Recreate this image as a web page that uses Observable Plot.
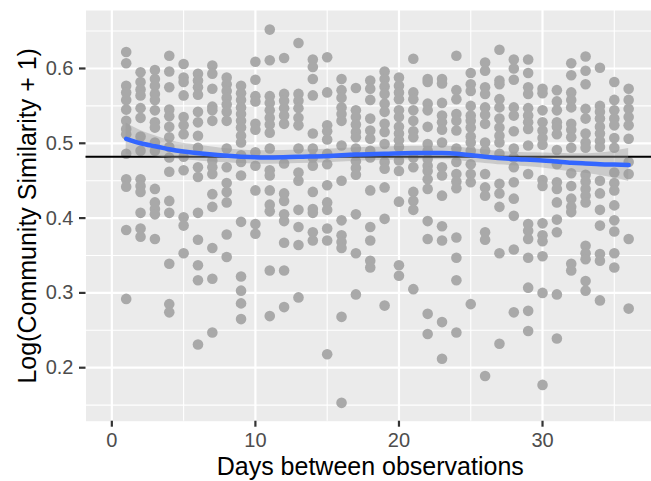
<!DOCTYPE html>
<html><head><meta charset="utf-8">
<script src="https://cdn.jsdelivr.net/npm/d3@7"></script>
<script src="https://cdn.jsdelivr.net/npm/@observablehq/plot@0.6"></script>
<style>html,body{margin:0;padding:0;background:#fff;overflow:hidden}</style>
</head><body><div id="chart"></div>
<script>
const days = [1,2,3,4,5,6,7,8,9,10,11,12,13,14,15,16,17,18,19,20,21,22,23,24,25,26,27,28,29,30,31,32,33,34,35,36];
const similarity = [
 [0.622,0.607,0.577,0.568,0.558,0.545,0.530,0.519,0.512,0.486,0.452,0.442,0.384,0.292],
 [0.595,0.582,0.572,0.564,0.547,0.534,0.509,0.490,0.452,0.443,0.435,0.407,0.386,0.375],
 [0.598,0.586,0.577,0.566,0.558,0.544,0.528,0.521,0.501,0.490,0.439,0.421,0.412,0.405,0.372],
 [0.617,0.596,0.575,0.545,0.536,0.522,0.508,0.495,0.481,0.462,0.423,0.407,0.339,0.285,0.274],
 [0.606,0.588,0.582,0.564,0.535,0.524,0.512,0.482,0.464,0.401,0.390,0.353],
 [0.593,0.584,0.575,0.565,0.542,0.528,0.510,0.494,0.468,0.455,0.407,0.371,0.337,0.317,0.231],
 [0.604,0.593,0.573,0.549,0.544,0.530,0.477,0.468,0.459,0.432,0.415,0.360,0.319,0.247],
 [0.588,0.579,0.570,0.561,0.552,0.542,0.530,0.493,0.468,0.447,0.435,0.421,0.378,0.348],
 [0.577,0.567,0.558,0.548,0.539,0.530,0.521,0.510,0.501,0.484,0.475,0.457,0.395,0.322,0.303,0.286,0.265],
 [0.609,0.585,0.563,0.556,0.526,0.518,0.488,0.470,0.437,0.392,0.379],
 [0.652,0.611,0.563,0.554,0.544,0.534,0.525,0.514,0.493,0.464,0.457,0.437,0.418,0.409,0.330,0.269],
 [0.614,0.566,0.557,0.547,0.537,0.526,0.473,0.433,0.423,0.405,0.396,0.367,0.330,0.281],
 [0.634,0.566,0.557,0.547,0.534,0.524,0.493,0.461,0.450,0.411,0.388,0.364,0.294],
 [0.612,0.602,0.586,0.564,0.513,0.493,0.481,0.470,0.435,0.412,0.407,0.381,0.370],
 [0.615,0.568,0.524,0.516,0.505,0.486,0.472,0.444,0.421,0.411,0.386,0.370,0.218],
 [0.586,0.571,0.561,0.548,0.539,0.530,0.497,0.450,0.397,0.377,0.368,0.360,0.268,0.153],
 [0.574,0.544,0.535,0.525,0.515,0.508,0.493,0.476,0.467,0.458,0.405,0.353,0.298],
 [0.584,0.573,0.558,0.533,0.517,0.506,0.490,0.481,0.437,0.388,0.370,0.343,0.334],
 [0.596,0.586,0.576,0.566,0.553,0.542,0.526,0.515,0.499,0.475,0.466,0.441,0.399,0.283],
 [0.588,0.577,0.568,0.559,0.544,0.535,0.522,0.513,0.504,0.495,0.477,0.463,0.422,0.337,0.323],
 [0.613,0.568,0.559,0.544,0.530,0.516,0.508,0.481,0.468,0.435,0.423,0.411,0.305],
 [0.586,0.582,0.553,0.544,0.522,0.499,0.490,0.479,0.470,0.463,0.452,0.439,0.396,0.372,0.272,0.245],
 [0.586,0.580,0.554,0.537,0.528,0.518,0.501,0.468,0.457,0.430,0.389,0.370,0.261,0.212],
 [0.617,0.571,0.559,0.539,0.530,0.517,0.493,0.475,0.459,0.449,0.440,0.374,0.347,0.317,0.247],
 [0.594,0.579,0.570,0.550,0.537,0.530,0.521,0.509,0.501,0.490,0.472,0.459,0.448,0.285],
 [0.608,0.597,0.575,0.566,0.548,0.538,0.526,0.501,0.490,0.459,0.441,0.430,0.381,0.371,0.189],
 [0.625,0.584,0.579,0.559,0.548,0.533,0.521,0.510,0.501,0.486,0.446,0.433,0.415,0.353,0.232],
 [0.612,0.600,0.585,0.548,0.537,0.516,0.493,0.481,0.468,0.448,0.426,0.403,0.358,0.274],
 [0.612,0.594,0.575,0.566,0.547,0.537,0.528,0.519,0.497,0.459,0.392,0.383,0.372,0.347,0.307,0.276,0.249],
 [0.573,0.567,0.544,0.528,0.517,0.507,0.498,0.451,0.443,0.393,0.377,0.369,0.349,0.300,0.177],
 [0.571,0.556,0.544,0.528,0.522,0.512,0.491,0.472,0.448,0.439,0.421,0.398,0.381,0.298,0.239],
 [0.607,0.591,0.568,0.558,0.548,0.526,0.518,0.508,0.494,0.460,0.443,0.426,0.415,0.408,0.339,0.330],
 [0.616,0.597,0.579,0.546,0.533,0.513,0.501,0.494,0.458,0.449,0.439,0.430,0.421,0.363,0.353,0.345,0.316,0.303],
 [0.601,0.550,0.542,0.533,0.522,0.513,0.503,0.495,0.450,0.433,0.411,0.390,0.352,0.343,0.290],
 [0.582,0.558,0.544,0.533,0.524,0.507,0.494,0.461,0.447,0.437,0.417,0.397,0.382,0.353,0.334],
 [0.573,0.558,0.546,0.535,0.524,0.506,0.475,0.459,0.372,0.279]
];
const meanSimilarity = [0.482];
const smoothDays = [1,2,3,4,5,7,9,11,13,15,17,19,21,23,24,26,28,30,32,33,34,35,36];
const smoothFit  = [0.506,0.500,0.496,0.492,0.489,0.485,0.482,0.481,0.482,0.483,0.485,0.486,0.487,0.487,0.486,0.482,0.479,0.477,0.474,0.473,0.472,0.4715,0.471];
const smoothLow  = [0.485,0.483,0.482,0.480,0.478,0.475,0.473,0.472,0.473,0.474,0.476,0.477,0.478,0.478,0.477,0.473,0.470,0.467,0.462,0.460,0.457,0.4535,0.449];
const smoothHigh = [0.527,0.517,0.510,0.504,0.500,0.495,0.491,0.490,0.491,0.492,0.494,0.495,0.496,0.496,0.495,0.491,0.488,0.487,0.486,0.486,0.487,0.4895,0.493];
const xMajor = [0,10,20,30];
const xMinor = [5,15,25,35];
const yMajor = [0.2,0.3,0.4,0.5,0.6];
const yMinor = [0.15,0.25,0.35,0.45,0.55,0.65];

const points = days.flatMap((d, i) => similarity[i].map(v => ({day: d, sim: v})));
const smooth = smoothDays.map((d, i) => ({day: d, fit: smoothFit[i], lo: smoothLow[i], hi: smoothHigh[i]}));

const chart = Plot.plot({
  width: 651, height: 481,
  marginLeft: 85.5, marginRight: -3, marginTop: 10, marginBottom: 60.3,
  style: {fontFamily: "'Liberation Sans', Arial, Helvetica, sans-serif", fontSize: "20px", background: "#fff", overflow: "hidden"},
  x: {domain: [-1.8, 37.8]},
  y: {domain: [0.1285, 0.6775]},
  marks: [
    Plot.frame({fill: "#EBEBEB", stroke: null}),
    Plot.gridX(xMinor, {stroke: "#fff", strokeOpacity: 1, strokeWidth: 1.1}),
    Plot.gridY(yMinor, {stroke: "#fff", strokeOpacity: 1, strokeWidth: 1.1}),
    Plot.gridX(xMajor, {stroke: "#fff", strokeOpacity: 1, strokeWidth: 2.2}),
    Plot.gridY(yMajor, {stroke: "#fff", strokeOpacity: 1, strokeWidth: 2.2}),
    Plot.dot(points, {x: "day", y: "sim", r: 5.3, fill: "#A9A9A9", stroke: null}),
    Plot.ruleY(meanSimilarity, {stroke: "#000", strokeWidth: 2.2}),
    Plot.areaY(smooth, {x: "day", y1: "lo", y2: "hi", fill: "#999999", fillOpacity: 0.4, curve: "natural"}),
    Plot.line(smooth, {x: "day", y: "fit", stroke: "#3366FF", strokeWidth: 4.5, curve: "natural"}),
    Plot.axisX(xMajor, {tickSize: 6, tickPadding: 6, stroke: "#333333", strokeWidth: 2.2, fill: "#4D4D4D", fontSize: 20, label: null}),
    Plot.axisY(yMajor, {tickSize: 6.5, tickPadding: 6, tickFormat: d3.format(".1f"), stroke: "#333333", strokeWidth: 2.2, fill: "#4D4D4D", fontSize: 20, label: null}),
    Plot.text(["Days between observations"], {frameAnchor: "bottom", textAnchor: "middle", lineAnchor: "middle", dy: 46, fontSize: 25, fill: "#000"}),
    Plot.text(["Log(Community Similarity + 1)"], {frameAnchor: "left", textAnchor: "middle", lineAnchor: "middle", rotate: -90, dx: -58.5, fontSize: 25, fill: "#000"})
  ]
});
document.getElementById("chart").appendChild(chart);
</script>
</body></html>
